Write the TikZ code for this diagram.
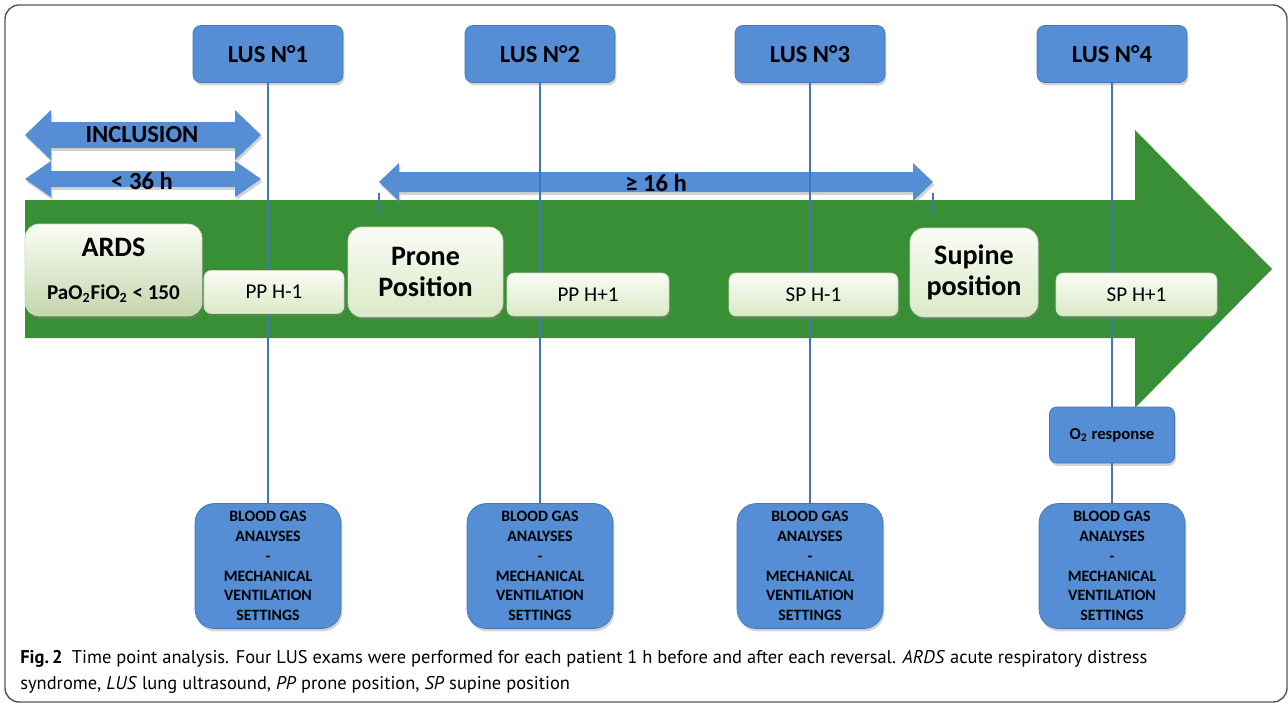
\documentclass[tikz,border=0pt]{standalone}
\usepackage{fontspec}
\setmainfont{Carlito}
\newfontfamily\capfont{PT Sans}
\usetikzlibrary{shadows,positioning}
\definecolor{lus_blue}{RGB}{85,142,213}
\definecolor{lus_edge}{RGB}{68,118,180}
\definecolor{time_green}{RGB}{56,143,53}
\definecolor{pale_top}{RGB}{250,252,245}
\definecolor{pale_bot}{RGB}{218,233,198}
\definecolor{ards_bot}{RGB}{196,214,172}
\definecolor{pale_edge}{RGB}{205,218,190}
\definecolor{frame_gray}{RGB}{85,85,85}

\begin{document}
\begin{tikzpicture}[x=0.02cm, y=-0.02cm,
      shade/.style={drop shadow={opacity=0.35, shadow xshift=0.8pt, shadow yshift=-1.6pt}},
      lus/.style={draw=lus_edge, fill=lus_blue, rounded corners=4.5pt, shade,
                  minimum width=3cm, minimum height=1.14cm,
                  font=\fontsize{14}{16}\selectfont\bfseries},
      bga/.style={draw=lus_edge, fill=lus_blue, rounded corners=11pt, shade,
                  minimum width=2.92cm, minimum height=2.5cm, inner sep=0pt, align=center,
                  font=\fontsize{9}{11.3}\selectfont\bfseries},
      stage/.style={draw=pale_edge, top color=pale_top, bottom color=pale_bot,
                    rounded corners=8pt, shade, align=center, inner sep=0pt,
                    font=\fontsize{16}{17.5}\selectfont\bfseries},
      tpoint/.style={draw=pale_edge, top color=pale_top, bottom color=pale_bot,
                     rounded corners=4pt, shade, minimum height=0.86cm, inner sep=0pt,
                     font=\fontsize{12}{14}\selectfont},
      span/.style={fill=lus_blue, shade},
      spantext/.style={font=\fontsize{14}{16}\selectfont\bfseries, inner sep=0pt},
      link/.style={draw=lus_edge, line width=0.6pt}]
    \useasboundingbox (0,0) rectangle (1288,703);
    \draw[frame_gray, line width=0.8pt, rounded corners=8pt] (5,5) rectangle (1287,702);

    % time line
    \fill[time_green] (25,200) -- (1135,200) -- (1135,130) -- (1272,269)
      -- (1135,408) -- (1135,338) -- (25,338) -- cycle;

    % durations
    \fill[span] (25,135) -- (51,110) -- (51,122) -- (235,122) -- (235,110) -- (261,135)
      -- (235,160) -- (235,148) -- (51,148) -- (51,160) -- cycle;
    \node[spantext] (incl) at (142,135) {INCLUSION};
    \fill[span] (25,179) -- (51,161) -- (51,171) -- (235,171) -- (235,161) -- (261,179)
      -- (235,197) -- (235,187) -- (51,187) -- (51,197) -- cycle;
    \node[spantext] (h36) at (142,181) {< 36 h};
    \fill[span] (379,182) -- (399,163) -- (399,172) -- (913,172) -- (913,163) -- (933,182)
      -- (913,201) -- (913,192) -- (399,192) -- (399,201) -- cycle;
    \node[spantext] (h16) at (656,183) {≥ 16 h};
    \draw[link] (379,193) -- (379,213);
    \draw[link] (933,193) -- (933,213);

    % exams
    \node[lus] (lus1) at (268,54) {LUS N°1};
    \node[lus] (lus2) at (540,54) {LUS N°2};
    \node[lus] (lus3) at (810,54) {LUS N°3};
    \node[lus] (lus4) at (1112,54) {LUS N°4};

    \node[bga] (bga1) at (268,566) {BLOOD GAS\\ANALYSES\\-\\MECHANICAL\\VENTILATION\\SETTINGS};
    \node[bga] (bga2) at (540,566) {BLOOD GAS\\ANALYSES\\-\\MECHANICAL\\VENTILATION\\SETTINGS};
    \node[bga] (bga3) at (810,566) {BLOOD GAS\\ANALYSES\\-\\MECHANICAL\\VENTILATION\\SETTINGS};
    \node[bga] (bga4) at (1112,566) {BLOOD GAS\\ANALYSES\\-\\MECHANICAL\\VENTILATION\\SETTINGS};
    \node[lus, minimum width=2.5cm, minimum height=1.12cm, rounded corners=4pt,
          font=\fontsize{9.5}{12}\selectfont\bfseries] (o2) at (1112,435) {O\textsubscript{2} response};

    \draw[link] (lus1.south) -- (bga1.north);
    \draw[link] (lus2.south) -- (bga2.north);
    \draw[link] (lus3.south) -- (bga3.north);
    \draw[link] (lus4.south) -- (o2.north);
    \draw[link] (o2.south) -- (bga4.north);

    % stages on the time line
    \node[stage, bottom color=ards_bot, minimum width=3.54cm, minimum height=1.84cm] (ards) at (113.5,270)
      {ARDS\\[7pt]{\fontsize{12}{14}\selectfont PaO\textsubscript{2}FiO\textsubscript{2} < 150}};
    \node[stage, minimum width=3.1cm, minimum height=1.8cm] (prone) at (425.5,272) {Prone\\Position};
    \node[stage, minimum width=2.56cm, minimum height=1.78cm] (supine) at (974,272.5) {Supine\\position};
    \node[tpoint, minimum width=2.8cm] (pp1) at (274,292) {PP H-1};
    \node[tpoint, minimum width=3.24cm] (pp2) at (588,294.5) {PP H+1};
    \node[tpoint, minimum width=3.38cm] (sp1) at (813.5,294.5) {SP H-1};
    \node[tpoint, minimum width=3.22cm] (sp2) at (1136.5,294.5) {SP H+1};

    \node[anchor=north west, align=left, inner sep=0pt,
          font=\capfont\fontsize{10.5}{15}\selectfont] (cap) at (20,650)
      {\textbf{Fig.\,2}\enspace Time point analysis. Four LUS exams were performed for each patient 1 h before and after each reversal. \textit{ARDS} acute respiratory distress\\
       syndrome, \textit{LUS} lung ultrasound, \textit{PP} prone position, \textit{SP} supine position};
  \end{tikzpicture}
\end{document}
